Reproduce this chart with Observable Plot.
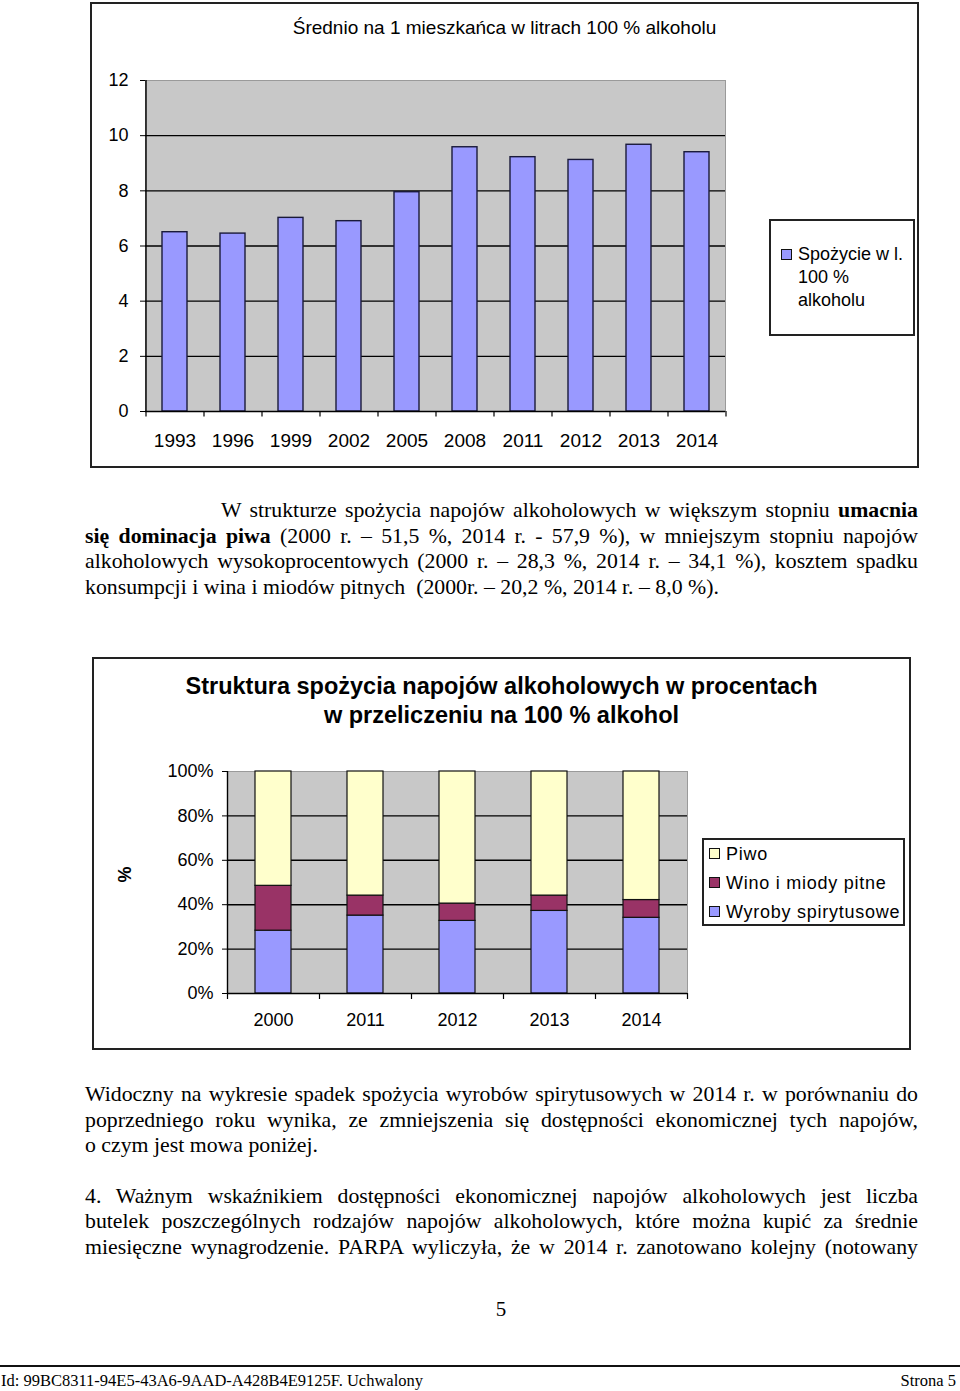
<!DOCTYPE html>
<html><head><meta charset="utf-8">
<script src="https://cdn.jsdelivr.net/npm/d3@7"></script>
<script src="https://cdn.jsdelivr.net/npm/@observablehq/plot@0.6"></script>
<style>
body{margin:0;background:#fff;width:960px;height:1391px;position:relative;overflow:hidden;color:#000}
.abs{position:absolute}
.box{position:absolute;border:2px solid #222;box-sizing:border-box;background:#fff}
.sans{font-family:"Liberation Sans",Arial,sans-serif}
.serif{font-family:"Liberation Serif","Times New Roman",serif;font-size:21.8px;line-height:25.5px;color:#000}
.j{text-align:justify;text-align-last:justify;white-space:nowrap}
.sq{position:absolute;width:11px;height:11px;border:1px solid #111;box-sizing:border-box}
</style></head><body>

<div class="box" style="left:90px;top:2px;width:829px;height:466px"></div>
<div class="abs sans" style="left:90px;top:17px;width:829px;text-align:center;font-size:19px;line-height:22px">Średnio na 1 mieszkańca w litrach 100 % alkoholu</div>
<div id="c1" class="abs" style="left:95px;top:60px"></div>
<div class="box" style="left:769px;top:219px;width:146px;height:117px">
  <div class="sq" style="left:10px;top:28px;background:#9999ff"></div>
  <div class="abs sans" style="left:27px;top:22px;font-size:18px;line-height:23px;white-space:nowrap">Spożycie w l.<br>100 %<br>alkoholu</div>
</div>

<div class="abs serif" style="left:85px;top:498px;width:833px">
  <div class="j" style="text-indent:136px">W strukturze spożycia napojów alkoholowych w większym stopniu <b>umacnia</b></div>
  <div class="j"><b>się dominacja piwa</b> (2000 r. – 51,5 %, 2014 r. - 57,9 %), w mniejszym stopniu napojów</div>
  <div class="j">alkoholowych wysokoprocentowych (2000 r. – 28,3 %, 2014 r. – 34,1 %), kosztem spadku</div>
  <div>konsumpcji i wina i miodów pitnych&nbsp; (2000r. – 20,2 %, 2014 r. – 8,0 %).</div>
</div>

<div class="box" style="left:92px;top:657px;width:819px;height:393px"></div>
<div class="abs sans" style="left:92px;top:671.5px;width:819px;text-align:center;font-size:23.5px;line-height:29px;font-weight:bold">Struktura spożycia napojów alkoholowych w procentach<br>w przeliczeniu na 100 % alkohol</div>
<div id="c2" class="abs" style="left:100px;top:750px"></div>
<div class="box" style="left:702px;top:838px;width:203px;height:88px">
  <div class="sq" style="left:5px;top:8px;background:#ffffcc"></div>
  <div class="sq" style="left:5px;top:37px;background:#993366"></div>
  <div class="sq" style="left:5px;top:66px;background:#9999ff"></div>
  <div class="abs sans" style="left:22px;top:0px;font-size:18px;line-height:29px;white-space:nowrap;letter-spacing:0.75px">Piwo<br>Wino i miody pitne<br>Wyroby spirytusowe</div>
</div>

<div class="abs serif" style="left:85px;top:1082px;width:833px">
  <div class="j">Widoczny na wykresie spadek spożycia wyrobów spirytusowych w 2014 r. w porównaniu do</div>
  <div class="j">poprzedniego roku wynika, ze zmniejszenia się dostępności ekonomicznej tych napojów,</div>
  <div>o czym jest mowa poniżej.</div>
  <div style="height:25px"></div>
  <div class="j">4. Ważnym wskaźnikiem dostępności ekonomicznej napojów alkoholowych jest liczba</div>
  <div class="j">butelek poszczególnych rodzajów napojów alkoholowych, które można kupić za średnie</div>
  <div class="j">miesięczne wynagrodzenie. PARPA wyliczyła, że w 2014 r. zanotowano kolejny (notowany</div>
</div>

<div class="abs serif" style="left:0;top:1297px;width:1002px;text-align:center;font-size:21px">5</div>
<div class="abs" style="left:0;top:1365px;width:960px;height:2px;background:#111"></div>
<div class="abs serif" style="left:1px;top:1371px;font-size:16.5px;line-height:20px">Id: 99BC8311-94E5-43A6-9AAD-A428B4E9125F. Uchwalony</div>
<div class="abs serif" style="right:4px;top:1371px;font-size:16.5px;line-height:20px">Strona 5</div>

<script>
// Chart 1 data
const years1 = ["1993","1996","1999","2002","2005","2008","2011","2012","2013","2014"];
const consumption = [6.50, 6.45, 7.02, 6.90, 7.95, 9.58, 9.22, 9.12, 9.67, 9.40];
const yTicks1 = [0, 2, 4, 6, 8, 10, 12];

// Chart 2 data
const years2 = ["2000","2011","2012","2013","2014"];
const categories = ["Wyroby spirytusowe", "Wino i miody pitne", "Piwo"];
const spirits = [28.3, 35.1, 32.7, 37.2, 34.1];
const wine = [20.2, 9.0, 7.8, 6.9, 8.0];
const beer = [51.5, 55.9, 59.5, 55.9, 57.9];
const yTicks2 = [0, 0.2, 0.4, 0.6, 0.8, 1];
const catColors = ["#9999ff", "#993366", "#ffffcc"];

const data1 = years1.map((y, i) => ({year: y, value: consumption[i]}));
const data2 = years2.flatMap((y, i) => [
  {year: y, cat: categories[0], v: spirits[i]},
  {year: y, cat: categories[1], v: wine[i]},
  {year: y, cat: categories[2], v: beer[i]}
]);

const font = "Liberation Sans, Arial, sans-serif";

// Chart 1
const w1 = 640, ml1 = 50, mr1 = 10;
const step1 = (w1 - ml1 - mr1) / years1.length;
const c1 = Plot.plot({
  width: w1, height: 396, marginLeft: ml1, marginRight: mr1, marginTop: 20, marginBottom: 45,
  style: {fontFamily: font, fontSize: "18px", color: "#000", background: "transparent", overflow: "visible"},
  x: {type: "band", domain: years1, paddingInner: 0.57, paddingOuter: 0.285},
  y: {domain: [0, 12]},
  marks: [
    Plot.frame({fill: "#c8c8c8", stroke: "#9a9a9a"}),
    Plot.ruleY(yTicks1.slice(1, -1), {stroke: "#000", strokeWidth: 1.4}),
    Plot.barY(data1, {x: "year", y: "value", fill: "#9999ff", stroke: "#1a1a3a", strokeWidth: 1.4}),
    Plot.ruleY([0], {stroke: "#000", strokeWidth: 1.4}),
    Plot.ruleX([years1[0]], {dx: -step1 / 2, stroke: "#000", strokeWidth: 1.4}),
    Plot.ruleX(years1, {y1: 0, y2: -0.2, dx: -step1 / 2, stroke: "#000", strokeWidth: 1.2}),
    Plot.ruleX([years1[years1.length - 1]], {y1: 0, y2: -0.2, dx: step1 / 2, stroke: "#000", strokeWidth: 1.2}),
    Plot.axisY({ticks: yTicks1, tickSize: 5, tickPadding: 12, fontSize: 18, label: null}),
    Plot.axisX({tickSize: 0, tickPadding: 22, fontSize: 19, label: null})
  ]
});
document.getElementById("c1").appendChild(c1);

// Chart 2
const w2 = 602, ml2 = 127, mr2 = 15;
const step2 = (w2 - ml2 - mr2) / years2.length;
const c2 = Plot.plot({
  width: w2, height: 288, marginLeft: ml2, marginRight: mr2, marginTop: 21, marginBottom: 45,
  style: {fontFamily: font, fontSize: "18px", color: "#000", background: "transparent", overflow: "visible"},
  x: {type: "band", domain: years2, paddingInner: 0.61, paddingOuter: 0.305},
  y: {domain: [0, 1]},
  color: {domain: categories, range: catColors},
  marks: [
    Plot.frame({fill: "#c8c8c8", stroke: "#9a9a9a"}),
    Plot.ruleY(yTicks2.slice(1, -1), {stroke: "#000", strokeWidth: 1.4}),
    Plot.barY(data2, {x: "year", y: d => d.v / 100, fill: "cat", stroke: "#111", strokeWidth: 1.2}),
    Plot.ruleY([0], {stroke: "#000", strokeWidth: 1.4}),
    Plot.ruleX([years2[0]], {dx: -step2 / 2, stroke: "#000", strokeWidth: 1.4}),
    Plot.ruleX(years2, {y1: 0, y2: -0.027, dx: -step2 / 2, stroke: "#000", strokeWidth: 1.2}),
    Plot.ruleX([years2[years2.length - 1]], {y1: 0, y2: -0.027, dx: step2 / 2, stroke: "#000", strokeWidth: 1.2}),
    Plot.axisY({ticks: yTicks2, tickFormat: d3.format(".0%"), tickSize: 5, tickPadding: 9, fontSize: 18, label: null}),
    Plot.axisX({tickSize: 0, tickPadding: 20, fontSize: 18, label: null}),
    Plot.text(["%"], {frameAnchor: "left", dx: -102, rotate: -90, fontWeight: "bold", fontSize: 18, text: d => d})
  ]
});
document.getElementById("c2").appendChild(c2);
</script>
</body></html>
